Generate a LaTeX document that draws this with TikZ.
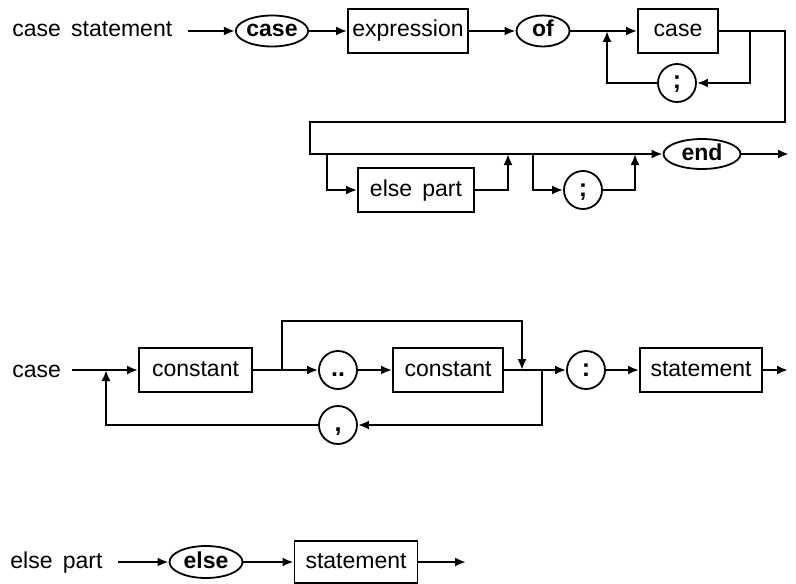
\documentclass[tikz,border=0pt]{standalone}
\usepackage{fontspec}
\setmainfont{Liberation Sans}[WordSpace=1.6]
\usetikzlibrary{positioning,calc,arrows.meta,shapes.geometric}
\newcommand{\synfont}{\fontsize{11.5}{13}\selectfont}
\tikzset{
	every node/.style={text height=8.3pt,text depth=2.3pt},
	kw/.style={ellipse,draw=black,line width=0.9pt,inner sep=0pt,font=\synfont\bfseries},
	nt/.style={rectangle,draw=black,line width=0.9pt,inner sep=0pt,minimum height=22pt,font=\synfont},
	sym/.style={circle,draw=black,line width=0.9pt,inner sep=0pt,minimum size=19pt,font=\fontsize{12.5}{14}\selectfont\bfseries},
	rulename/.style={anchor=west,inner sep=0pt,font=\synfont},
	conn/.style={draw=black,line width=1.4pt},
	arr/.style={conn,-{Latex[length=5.5pt,width=4.5pt]}},
}

\begin{document}
\begin{tikzpicture}[x=0.5pt,y=-0.5pt]
			\useasboundingbox (0,0) rectangle (796,583);
			\begin{scope}
				\node[rulename] (csname) at (12,31) {case statement};
				\coordinate (cs0) at (188,31);
				\node[kw,minimum width=35pt,minimum height=15.5pt] (kcase) at (272,31) {case};
				\node[nt,minimum width=60pt] (expr) at (408,31) {expression};
				\node[kw,minimum width=26.5pt,minimum height=15.5pt] (kof) at (543,31) {of};
				\coordinate (j1) at (607,31);
				\node[nt,minimum width=40pt] (casebox) at (678,31) {case};
				\node[sym] (semi1) at (677,83) {;};
				\coordinate (r1) at (750,31);
				\coordinate (r2) at (785,31);
				\coordinate (lt) at (310,122);
				\coordinate (b1) at (327,154);
				\coordinate (b2) at (508,154);
				\coordinate (b3) at (533,154);
				\coordinate (b4) at (635,154);
				\node[nt,minimum width=58pt] (elsebox) at (416,190) {else part};
				\node[sym] (semi2) at (583,190) {;};
				\node[kw,minimum width=38.5pt,minimum height=14.5pt] (kend) at (702,154) {end};
				\coordinate (e0) at (789,154);
				\draw[arr] (cs0) -- (kcase);
				\draw[arr] (kcase) -- (expr);
				\draw[arr] (expr) -- (kof);
				\draw[arr] (kof) -- (casebox);
				\draw[arr] (r1) |- (semi1);
				\draw[arr] (semi1) -| (j1);
				\draw[arr] (casebox.east) -- (r2) |- (lt) |- (kend.west);
				\draw[arr] (b1) |- (elsebox);
				\draw[arr] (elsebox) -| (b2);
				\draw[arr] (b3) |- (semi2);
				\draw[arr] (semi2) -| (b4);
				\draw[arr] (kend) -- (e0);
			\end{scope}
			\begin{scope}
				\node[rulename] (cname) at (12,371) {case};
				\coordinate (m0) at (72,370);
				\coordinate (m1) at (106,370);
				\node[nt,minimum width=56.5pt] (const1) at (195.5,370) {constant};
				\coordinate (m2) at (282,370);
				\node[sym] (dots) at (338,370) {..};
				\node[nt,minimum width=55pt] (const2) at (448,370) {constant};
				\coordinate (byp) at (522,321);
				\coordinate (m3) at (522,370);
				\coordinate (m4) at (542,370);
				\node[sym] (colon) at (586,370) {:};
				\node[nt,minimum width=61pt] (stmt1) at (701,370) {statement};
				\coordinate (m5) at (788,370);
				\node[sym] (comma) at (338,425) {,};
				\draw[arr] (m0) -- (const1);
				\draw[arr] (const1) -- (dots);
				\draw[arr] (m2) |- (byp) -- (m3);
				\draw[arr] (dots) -- (const2);
				\draw[arr] (const2) -- (colon);
				\draw[arr] (colon) -- (stmt1);
				\draw[arr] (stmt1) -- (m5);
				\draw[arr] (m4) |- (comma);
				\draw[arr] (comma) -| (m1);
			\end{scope}
			\begin{scope}
				\node[rulename] (epname) at (10,562) {else part};
				\coordinate (s0) at (118,562);
				\node[kw,minimum width=36.5pt,minimum height=16pt] (kelse) at (206,562) {else};
				\node[nt,minimum width=61.5pt,minimum height=21pt] (stmt2) at (356,562) {statement};
				\coordinate (s1) at (466,562);
				\draw[arr] (s0) -- (kelse);
				\draw[arr] (kelse) -- (stmt2);
				\draw[arr] (stmt2) -- (s1);
			\end{scope}
		\end{tikzpicture}
\end{document}
